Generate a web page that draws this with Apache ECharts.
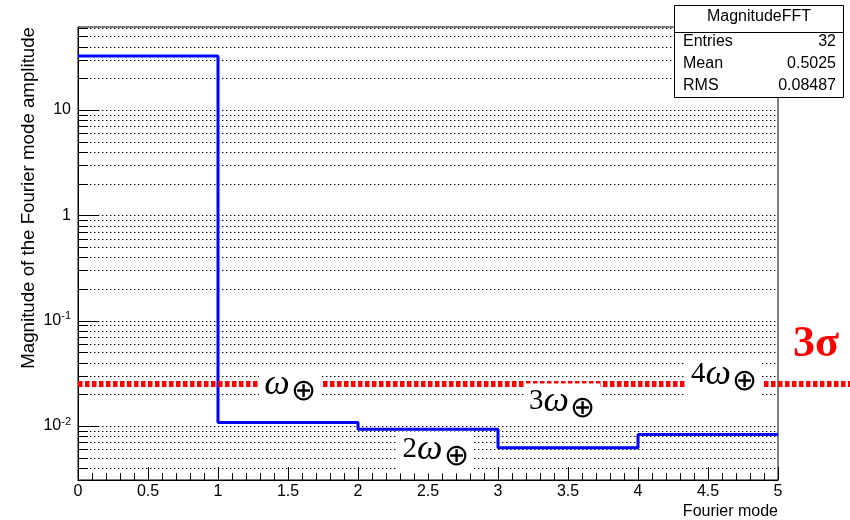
<!DOCTYPE html>
<html><head><meta charset="utf-8">
<script src="https://cdn.jsdelivr.net/npm/echarts@6/dist/echarts.min.js"></script>
<style>html,body{margin:0;padding:0;background:#fff}#c{width:850px;height:520px}</style>
</head><body><div id="c"></div>
<script>
// ---- data ----
const binEdges = [0, 1, 2, 3, 4, 5];
const binValues = [32.5, 0.0108, 0.00932, 0.00622, 0.00831];
const threeSigma = 0.0251;
const yRange = [0.00307, 61.4];
const yDecades = [-3, -2, -1, 0, 1];
const annoMult = ['', '2', '3', '4'];
const annoX = [1.514, 2.554, 3.457, 4.614];
const annoY = [0.0232, 0.00561, 0.0160, 0.0288];
const statsTitle = 'MagnitudeFFT';
const statsNames = ['Entries', 'Mean', 'RMS'];
const statsValues = ['32', '0.5025', '0.08487'];
const yTitle = 'Magnitude of the Fourier mode amplitude';
const xTitle = 'Fourier mode';

// ---- derived ----
const histPoints = binEdges.map((e, i) => [e, binValues[Math.min(i, binValues.length - 1)]]);
const gridVals = [];
yDecades.forEach(d => {
  for (let k = 1; k <= 9; k++) {
    const v = k * Math.pow(10, d);
    if (v > yRange[0] && v < yRange[1]) gridVals.push([k === 1 ? 1 : 0, v]);
  }
});
const xMin = binEdges[0], xMax = binEdges[binEdges.length - 1];
const SANS = 'Liberation Sans, Arial, Helvetica, sans-serif';

const chart = echarts.init(document.getElementById('c'), null, {renderer: 'canvas'});
const crisp = y => Math.round(y) + 0.5;

const statsChildren = [
  {type: 'rect', z: 50, shape: {x: 0.5, y: 0.5, width: 169, height: 92}, style: {fill: '#fff', stroke: '#000', lineWidth: 1}},
  {type: 'line', z: 51, shape: {x1: 0.5, y1: 27.5, x2: 169.5, y2: 27.5}, style: {stroke: '#000', lineWidth: 1}},
  {type: 'text', z: 51, x: 85, y: 12, style: {text: statsTitle, font: '16px ' + SANS, fill: '#000', align: 'center', verticalAlign: 'middle'}}
];
statsNames.forEach((n, i) => {
  statsChildren.push({type: 'text', z: 51, x: 9, y: 37 + 22 * i, style: {text: n, font: '16px ' + SANS, fill: '#000', align: 'left', verticalAlign: 'middle'}});
  statsChildren.push({type: 'text', z: 51, x: 162, y: 37 + 22 * i, style: {text: statsValues[i], font: '16px ' + SANS, fill: '#000', align: 'right', verticalAlign: 'middle'}});
});

chart.setOption({
  animation: false,
  backgroundColor: '#fff',
  grid: {left: 78, right: 72, top: 27, bottom: 40, show: true, borderColor: '#000', borderWidth: 1, backgroundColor: 'transparent'},
  xAxis: {
    type: 'value', min: xMin, max: xMax, interval: 0.5,
    axisLine: {show: true, onZero: false, lineStyle: {color: '#000', width: 1}},
    axisTick: {show: true, inside: true, length: 13, lineStyle: {color: '#000'}},
    minorTick: {show: true, splitNumber: 5, length: 7, lineStyle: {color: '#000'}},
    splitLine: {show: false},
    axisLabel: {color: '#000', fontSize: 16, fontFamily: SANS, margin: 4},
    name: xTitle, nameLocation: 'end', nameGap: 0,
    nameTextStyle: {color: '#000', fontSize: 16, fontFamily: SANS, align: 'right', verticalAlign: 'top', padding: [24, 0, 0, 0]}
  },
  yAxis: {
    type: 'log', logBase: 10, min: yRange[0], max: yRange[1],
    axisLine: {show: true, lineStyle: {color: '#000', width: 1}},
    axisTick: {show: false}, splitLine: {show: false}, minorTick: {show: false},
    axisLabel: {
      color: '#000', margin: 7, showMinLabel: true, showMaxLabel: true,
      formatter: function (v) {
        const e = Math.log10(v); const r = Math.round(e);
        if (Math.abs(e - r) > 1e-6) return '';
        if (r === 0) return '{b|1}';
        if (r === 1) return '{b|10}';
        return '{b|10}{s|' + r + '}';
      },
      rich: {
        b: {fontSize: 16, fontFamily: SANS, color: '#000', lineHeight: 20},
        s: {fontSize: 11, fontFamily: SANS, color: '#000', lineHeight: 20, verticalAlign: 'bottom', padding: [0, 0, 9, 0]}
      }
    }
  },
  series: [
    { // y grid lines + ticks
      type: 'custom', z: 1, silent: true, clip: false,
      encode: {x: 0, y: 1},
      data: gridVals,
      renderItem: function (params, api) {
        const v = api.value(1), major = api.value(0);
        const p0 = api.coord([xMin, v]), p1 = api.coord([xMax, v]);
        const y = crisp(p0[1]);
        return {type: 'group', children: [
          {type: 'line', shape: {x1: p0[0], y1: y, x2: p1[0], y2: y}, style: {stroke: '#000', lineWidth: 1, lineDash: [1.4, 2.6]}},
          {type: 'line', shape: {x1: p0[0], y1: y, x2: p0[0] + (major ? 21 : 10), y2: y}, style: {stroke: '#000', lineWidth: 1}}
        ]};
      }
    },
    { // histogram
      type: 'line', step: 'end', z: 3, data: histPoints, showSymbol: false, symbol: 'none',
      lineStyle: {color: '#0000ff', width: 3}, itemStyle: {color: '#0000ff'}, silent: true
    },
    { // 3 sigma line
      type: 'custom', z: 4, silent: true, clip: false,
      data: [[xMin, threeSigma]],
      renderItem: function (params, api) {
        const p = api.coord([api.value(0), api.value(1)]);
        return {type: 'line', shape: {x1: p[0], y1: p[1], x2: api.getWidth(), y2: p[1]},
          style: {stroke: '#ff0000', lineWidth: 6, lineDash: [4.5, 2.5]}};
      }
    },
    { // annotations
      type: 'custom', z: 6, silent: true, clip: false,
      data: annoX.map((x, i) => [x, annoY[i], i]),
      renderItem: function (params, api) {
        const p = api.coord([api.value(0), api.value(1)]);
        const m = annoMult[api.value(2)];
        const txt = (m ? '{d|' + m + '}' : '') + '{w|ω}{o|⊕}';
        return {type: 'text', x: p[0], y: p[1], z2: 10, style: {
          text: txt, align: 'center', verticalAlign: 'middle',
          backgroundColor: '#fff', padding: [1, 5, 1, 5],
          rich: {
            d: {fontFamily: 'Liberation Serif', fontSize: 29, fill: '#000', lineHeight: 40, verticalAlign: 'middle', padding: [0, 0, 6, 0]},
            w: {fontFamily: 'Liberation Serif', fontStyle: 'italic', fontSize: 36, fill: '#000', lineHeight: 40, verticalAlign: 'middle', padding: [0, 0, 6, 0]},
            o: {fontFamily: 'DejaVu Sans', fontWeight: 200, fontSize: 30, fill: '#000', lineHeight: 40, verticalAlign: 'bottom', padding: [0, 0, 0, 1]}
          }
        }};
      }
    }
  ],
  graphic: [
    {type: 'text', x: 29, y: 27, rotation: Math.PI / 2, z: 10,
      style: {text: yTitle, font: '18.7px ' + SANS, fill: '#000', align: 'right', verticalAlign: 'middle'}},
    {type: 'text', x: 816, y: 345, z: 10,
      style: {text: '3σ', font: 'bold 44px "Liberation Serif", serif', fill: '#ff0000', align: 'center', verticalAlign: 'middle'}},
    {type: 'group', x: 674, y: 5, z: 50, children: statsChildren}
  ]
});
</script></body></html>
